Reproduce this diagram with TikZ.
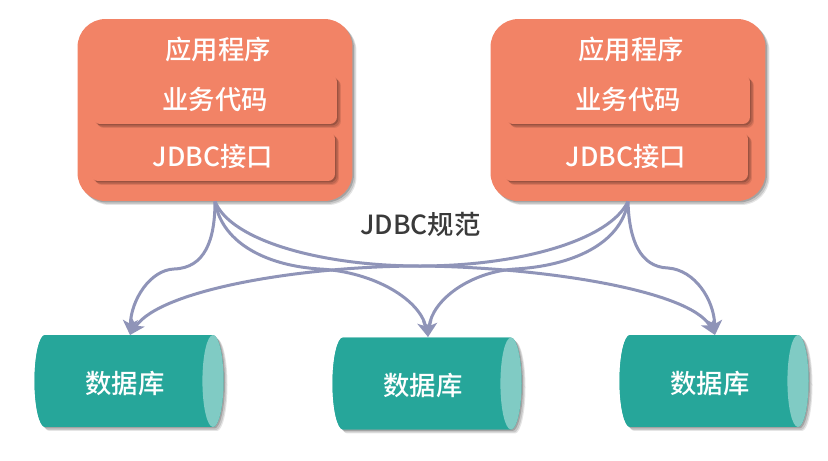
\documentclass[tikz,border=0pt]{standalone}
\usepackage{fontspec}
\setmainfont{Noto Sans CJK SC Medium}
\usetikzlibrary{shapes.geometric, arrows.meta, shadows}
\definecolor{appfill}{HTML}{F28366}
\definecolor{dbfill}{HTML}{26A69A}
\definecolor{dbend}{HTML}{80CBC4}
\definecolor{linkcolor}{HTML}{8F94B8}
\definecolor{labelcolor}{HTML}{3A3A3A}

\begin{document}
\begin{tikzpicture}[x=0.02cm, y=-0.02cm, >={Stealth[length=0.3cm, width=0.3cm, inset=0.08cm]}]

% Styles
\tikzstyle{softshadow} = [drop shadow={shadow xshift=0.08cm, shadow yshift=-0.08cm, opacity=0.1, fill=black}, drop shadow={shadow xshift=0.06cm, shadow yshift=-0.06cm, opacity=0.13, fill=black}, drop shadow={shadow xshift=0.03cm, shadow yshift=-0.03cm, opacity=0.18, fill=black}]
\tikzstyle{appbox} = [rectangle, rounded corners=0.56cm, minimum width=5.5cm, minimum height=3.64cm, fill=appfill, softshadow]
\tikzstyle{layerbox} = [rectangle, rounded corners=0.14cm, minimum width=4.88cm, minimum height=0.98cm, fill=appfill, text=white, font=\fontsize{15pt}{17pt}\selectfont, softshadow]
\tikzstyle{whitelabel} = [text=white, font=\fontsize{15pt}{17pt}\selectfont]
\tikzstyle{dbbase} = [cylinder, shape aspect=1.8, minimum width=1.84cm, minimum height=3.78cm, fill=dbfill, softshadow]
\tikzstyle{db} = [cylinder, shape aspect=1.8, minimum width=1.84cm, minimum height=3.78cm, cylinder uses custom fill, cylinder body fill=dbfill, cylinder end fill=dbend]
\tikzstyle{arrow} = [line width=0.06cm, linkcolor, ->]

\useasboundingbox (0,0) rectangle (828,460);

% --- Left application ---
\node (app1) [appbox] at (215,110) {};
\node (app1title) [whitelabel] at (218,49) {应用程序};
\node (code1) [layerbox] at (215,99.5) {业务代码};
\node (jdbc1) [layerbox] at (213,156.5) {JDBC接口};

% --- Right application ---
\node (app2) [appbox] at (628,110) {};
\node (app2title) [whitelabel] at (631,49) {应用程序};
\node (code2) [layerbox] at (628,99.5) {业务代码};
\node (jdbc2) [layerbox] at (626,156.5) {JDBC接口};

% --- Databases ---
\node (db1base) [dbbase] at (121,381) {};
\node (db1) [db] at (121,381) {};
\node (db1label) [whitelabel] at (125,384) {数据库};
\coordinate (db1top) at (130,335);
\node (db2base) [dbbase] at (419,383.5) {};
\node (db2) [db] at (419,383.5) {};
\node (db2label) [whitelabel] at (423,385.5) {数据库};
\coordinate (db2top) at (428,337);
\node (db3base) [dbbase] at (706,381) {};
\node (db3) [db] at (706,381) {};
\node (db3label) [whitelabel] at (710,384) {数据库};
\coordinate (db3top) at (715,335);

\node (spec) [text=labelcolor, font=\fontsize{15pt}{17pt}\selectfont] at (420.5,224) {JDBC规范};

% --- Arrows from the left application ---
\draw[arrow] (app1.south) .. controls (215,240) and (205,268) .. (174,269) .. controls (150,270) and (131,300) .. (db1top);
\draw[arrow] (app1.south) .. controls (222,245) and (270,266) .. (320,269) .. controls (375,272) and (420,300) .. (db2top);
\draw[arrow] (app1.south) .. controls (230,240) and (320,266) .. (420,266) .. controls (540,267) and (690,290) .. (db3top);

% --- Arrows from the right application ---
\draw[arrow] (app2.south) .. controls (610,240) and (520,266) .. (420,266) .. controls (300,266) and (160,290) .. (db1top);
\draw[arrow] (app2.south) .. controls (621,245) and (570,266) .. (515,269) .. controls (470,272) and (432,300) .. (db2top);
\draw[arrow] (app2.south) .. controls (629,240) and (640,267) .. (668,268) .. controls (695,270) and (714,300) .. (db3top);

\end{tikzpicture}
\end{document}
